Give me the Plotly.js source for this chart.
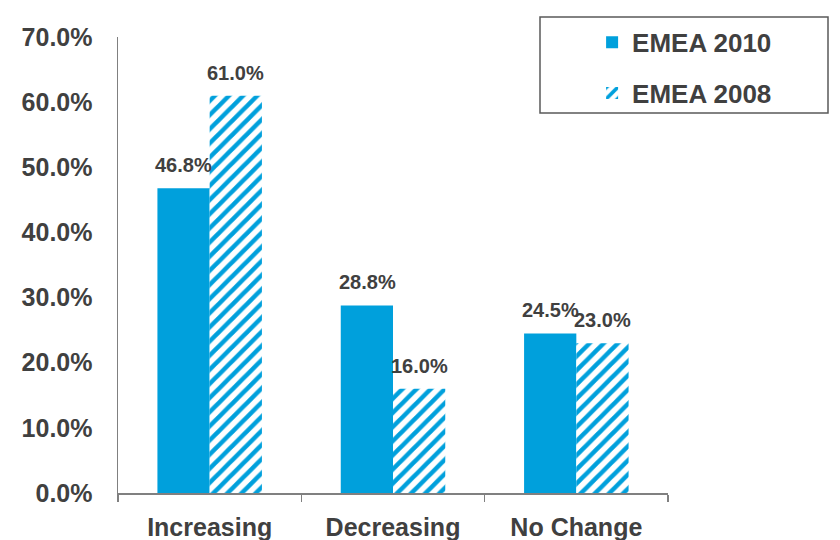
<!DOCTYPE html>
<html>
<head>
<meta charset="utf-8">
<script src="https://cdn.plot.ly/plotly-3.0.1.min.js"></script>
<style>html,body{margin:0;padding:0;background:#fff;}#chart{width:840px;height:540px;}</style>
</head>
<body>
<div id="chart"></div>
<script>
var categories = ["Increasing", "Decreasing", "No Change"];
var emea2010 = [46.8, 28.8, 24.5];
var emea2008 = [61.0, 16.0, 23.0];
var seriesNames = ["EMEA 2010", "EMEA 2008"];
var yTicks = [0, 10, 20, 30, 40, 50, 60, 70];

var blue = "#00a0dc";
var textColor = "#404040";
var font = "Liberation Sans, Arial, sans-serif";

var traces = [
  {
    type: "bar", name: seriesNames[0], x: categories, y: emea2010,
    marker: {color: blue, line: {width: 0}},
    legendgroup: "a"
  },
  {
    type: "bar", name: seriesNames[1], x: categories, y: emea2008,
    marker: {color: "#ffffff", line: {width: 0},
      pattern: {shape: "/", fgcolor: blue, bgcolor: "#ffffff", size: 10, solidity: 0.45, fillmode: "replace"}},
    legendgroup: "b"
  }
];

function labels(vals, xs) {
  return vals.map(function(v, i) {
    return {
      x: categories[i], y: v, xref: "x", yref: "y",
      text: v.toFixed(1) + "%", showarrow: false,
      xshift: xs, yshift: 10, yanchor: "bottom",
      font: {family: font, size: 20, color: textColor, weight: "bold"}
    };
  });
}

var plotH = 540 - 37 - 47;
var layout = {
  width: 840, height: 540,
  margin: {l: 118, r: 172, t: 37, b: 47},
  paper_bgcolor: "#ffffff", plot_bgcolor: "#ffffff",
  barmode: "group", bargap: 0.43, bargroupgap: 0,
  showlegend: true,
  legend: {
    x: 0.862, xanchor: "left", y: 1.04, yanchor: "top",
    font: {family: font, size: 26, color: textColor, weight: "bold"},
    bgcolor: "rgba(0,0,0,0)", borderwidth: 0,
    traceorder: "grouped", tracegroupgap: 14, itemwidth: 30
  },
  annotations: labels(emea2010, -26).concat(labels(emea2008, 26)),
  shapes: [{
    type: "rect", xref: "paper", yref: "paper",
    x0: (540 - 118) / 550, x1: (828 - 118) / 550,
    y0: (493 - 113) / plotH, y1: (493 - 17) / plotH,
    line: {color: "#595959", width: 1.5}, fillcolor: "rgba(0,0,0,0)"
  }],
  xaxis: {
    showline: true, linecolor: "#808080", linewidth: 1.5,
    ticks: "outside", tickson: "boundaries", ticklen: 7, tickcolor: "#808080", tickwidth: 1.5,
    tickfont: {family: font, size: 25, color: textColor, weight: "bold"},
    ticklabelstandoff: 11,
    showgrid: false, zeroline: false, fixedrange: true
  },
  yaxis: {
    range: [0, 70], tickvals: yTicks,
    ticktext: yTicks.map(function(v){return v.toFixed(1) + "%";}),
    showline: true, linecolor: "#808080", linewidth: 1.5,
    ticks: "", ticklabelstandoff: 19,
    tickfont: {family: font, size: 25, color: textColor, weight: "bold"},
    showgrid: false, zeroline: false, fixedrange: true
  }
};

Plotly.newPlot("chart", traces, layout, {displayModeBar: false, staticPlot: true});
</script>
</body>
</html>
